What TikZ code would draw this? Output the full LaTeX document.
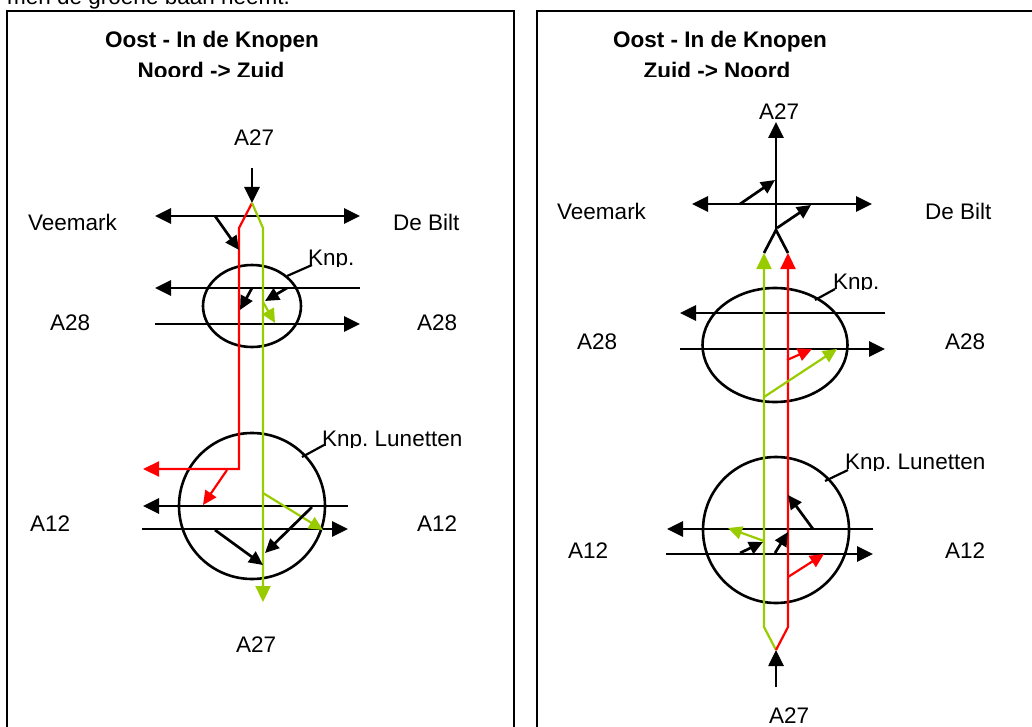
\documentclass[tikz,border=0pt]{standalone}
\usepackage{fontspec}
\setmainfont{Liberation Sans}
\usetikzlibrary{arrows.meta}
\definecolor{lgreen}{RGB}{153,204,0}
\definecolor{lred}{RGB}{255,0,0}
\begin{document}
\frenchspacing
\begin{tikzpicture}[x=1pt,y=-1pt,
  road/.style={line width=2.7pt, black},
  flow/.style={line width=2.2pt},
  bigtip/.style={-{Triangle[length=16pt,width=15pt]}},
  bigtail/.style={{Triangle[length=16pt,width=15pt]}-},
  bigboth/.style={{Triangle[length=16pt,width=15pt]}-{Triangle[length=16pt,width=15pt]}},
  smalltip/.style={-{Triangle[length=14pt,width=13pt]}},
  lbl/.style={font=\fontsize{22.5}{27}\selectfont, inner sep=0pt, anchor=base west},
  ttl/.style={font=\fontsize{22.5}{27}\selectfont\bfseries, inner sep=0pt, anchor=base},
  frame/.style={line width=2pt},
  ring/.style={line width=2.6pt},
  leader/.style={line width=2.2pt}]

\useasboundingbox (0,0) rectangle (1032,727);
\clip (0,0) rectangle (1032,727);

% cut-off caption at top
\node[lbl] (intro) at (7,5) {men de groene baan neemt.};

% frames
\draw[frame] (7,740) -- (7,11) -- (514,11) -- (514,740);
\draw[frame] (537,740) -- (537,11) -- (1045,11) -- (1045,740);

% titles
\node[ttl] (t1a) at (212,48) {Oost - In de Knopen};
\node[ttl] (t2a) at (720,48) {Oost - In de Knopen};
\begin{scope}
  \clip (0,55) rectangle (1032,76.5);
  \node[ttl] (t1b) at (211,79) {Noord -> Zuid};
  \node[ttl] (t2b) at (717,79) {Zuid -> Noord};
\end{scope}

% ================= LEFT PANEL =================
\node[lbl] (la27t) at (234,146) {A27};
\node[lbl] (lvee) at (28,230) {Veemark};
\node[lbl] (lbilt) at (393,230) {De Bilt};
\node[lbl] (la28l) at (50,330) {A28};
\node[lbl] (la28r) at (417,330) {A28};
\node[lbl] (la12l) at (30,531) {A12};
\node[lbl] (la12r) at (417,531) {A12};
\node[lbl] (la27b) at (236,652) {A27};
\begin{scope}
  \clip (300,240) rectangle (400,266);
  \node[lbl] (lknp1) at (308,265) {Knp.};
\end{scope}
\begin{scope}
  \clip (315,420) rectangle (480,447);
  \node[lbl] (lknp2) at (322,446) {Knp. Lunetten};
\end{scope}

% roads
\draw[road, bigtip] (252,168) -- (252,203);
\draw[road, bigboth] (155,216) -- (360,216);
\draw[ring] (252,306) ellipse [x radius=49, y radius=41];
\draw[road, bigtail] (155,288) -- (360,288);
\draw[road, bigtip] (155,324) -- (360,324);
\draw[ring] (252,506) circle [radius=73];
\draw[road, bigtail] (143,506) -- (348,506);
\draw[road, bigtip] (142,529) -- (348,529);

% routes
\draw[lred, flow, bigtip] (252,203) -- (239,228) -- (239,469) -- (143,469);
\draw[lgreen, flow, bigtip] (252,203) -- (263,228) -- (263,602);

% ramps
\draw[road, smalltip] (215,216) -- (239,250);
\draw[road, smalltip] (287,288) -- (265,301);
\draw[road, smalltip] (252,288) -- (240,310);
\draw[lgreen, flow, smalltip] (263,302) -- (275,323);
\draw[lred, flow, smalltip] (227,470) -- (203,505);
\draw[lgreen, flow, smalltip] (263,493) -- (323,530);
\draw[road, smalltip] (312,507) -- (265,553);
\draw[road, smalltip] (215,530) -- (263,565);

% leaders
\draw[leader] (312,265) -- (287,276);
\draw[leader] (324,445) -- (302,457);

% ================= RIGHT PANEL =================
\node[lbl] (ra27t) at (759,120) {A27};
\node[lbl] (rvee) at (557,220) {Veemark};
\node[lbl] (rbilt) at (925,220) {De Bilt};
\node[lbl] (ra28l) at (577,349) {A28};
\node[lbl] (ra28r) at (945,349) {A28};
\node[lbl] (ra12l) at (568,558) {A12};
\node[lbl] (ra12r) at (945,558) {A12};
\node[lbl] (ra27b) at (769,723) {A27};
\begin{scope}
  \clip (825,260) rectangle (920,289.5);
  \node[lbl] (rknp1) at (833,289) {Knp.};
\end{scope}
\begin{scope}
  \clip (840,440) rectangle (1020,470);
  \node[lbl] (rknp2) at (845,469) {Knp. Lunetten};
\end{scope}

% roads
\draw[road, bigtip] (776,230) -- (776,122);
\draw[road, bigboth] (692,204) -- (872,204);
\draw[road] (764,253) -- (776,230) -- (788,253);
\draw[ring] (775,345) ellipse [x radius=72.5, y radius=57];
\draw[road, bigtail] (680,313) -- (885,313);
\draw[road, bigtip] (680,349) -- (885,349);
\draw[ring] (776,530) circle [radius=73];
\draw[road, bigtail] (667,529) -- (873,529);
\draw[road, bigtip] (666,554) -- (873,554);
\draw[road, bigtip] (776,687) -- (776,650);

% routes
\draw[lgreen, flow, bigtip] (776,650) -- (764,627) -- (764,253);
\draw[lred, flow, bigtip] (776,650) -- (788,627) -- (788,253);

% ramps
\draw[road, smalltip] (740,204) -- (775,180);
\draw[road, smalltip] (777,228) -- (811,205);
\draw[lred, flow, smalltip] (787,360) -- (812,349);
\draw[lgreen, flow, smalltip] (764,397) -- (837,349);
\draw[road, smalltip] (813,529) -- (788,495);
\draw[road, smalltip] (775,553) -- (788,532);
\draw[road, smalltip] (740,553) -- (763,542);
\draw[lgreen, flow, smalltip] (764,541) -- (728,528);
\draw[lred, flow, smalltip] (788,577) -- (824,554);

% leaders
\draw[leader] (835,289) -- (815,300);
\draw[leader] (848,470) -- (825,481);
\end{tikzpicture}
\end{document}
